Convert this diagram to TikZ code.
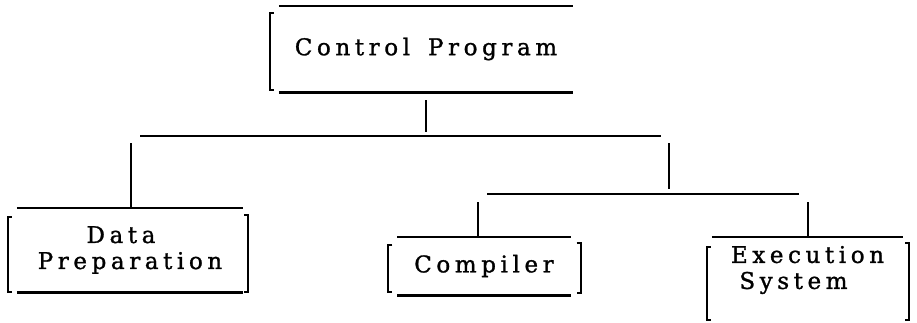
\documentclass[tikz,border=0pt]{standalone}
\usepackage{fontspec}
\newfontfamily\lsfont{DejaVu Serif}[LetterSpace=20,FakeBold=1.2]
\newcommand{\drawlbr}[4]{\draw[brk] ([shift={(#2+4,#3)}]#1.north west) -- ([shift={(#2,#3)}]#1.north west) -- ([shift={(#2,#4)}]#1.south west) -- ([shift={(#2+4,#4)}]#1.south west);}
\newcommand{\drawrbr}[4]{\draw[brk] ([shift={(#2-4,#3)}]#1.north east) -- ([shift={(#2,#3)}]#1.north east) -- ([shift={(#2,#4)}]#1.south east) -- ([shift={(#2-4,#4)}]#1.south east);}
\begin{document}
\begin{tikzpicture}[x=1pt,y=-1pt,
  boxnode/.style={inner sep=0pt, font=\lsfont\fontsize{23}{26}\selectfont, align=center},
  rule/.style={line width=2.6pt},
  brk/.style={line width=2.3pt},
  conn/.style={line width=2.3pt}]
\useasboundingbox (0,0) rectangle (917,322);
% boxes
\node[boxnode, minimum width=294pt, minimum height=86pt] (CP) at (426,49) {Control\hspace{6pt} Program};
\node[boxnode, minimum width=226pt, minimum height=84pt] (DP) at (130,250) {Data\kern18pt\\Preparation};
\node[boxnode, minimum width=173pt, minimum height=58pt] (CO) at (484,266) {Compiler};
\node[boxnode, minimum width=191pt, minimum height=66pt] (EX) at (807.5,270) {Execution\\System\kern28pt};
% box rules
\draw[rule] (CP.north west) -- (CP.north east);
\draw[rule] (CP.south west) -- (CP.south east);
\drawlbr{CP}{-9}{7}{-2}
\draw[rule] (DP.north west) -- (DP.north east);
\draw[rule] (DP.south west) -- (DP.south east);
\drawlbr{DP}{-9}{9}{0}
\drawrbr{DP}{5}{7}{0}
\draw[rule] (CO.north west) -- (CO.north east);
\draw[rule] (CO.south west) -- (CO.south east);
\drawlbr{CO}{-9}{8}{-3}
\drawrbr{CO}{10}{6}{-2}
\draw[rule] (EX.north west) -- (EX.north east);
\drawlbr{EX}{-5}{10}{17}
\drawrbr{EX}{6}{6}{17}
% connector points
\coordinate (j0) at (426,132);
\coordinate (b1w) at (140,136);
\coordinate (b1e) at (661,136);
\coordinate (j1) at (131,143);
\coordinate (j2) at (669,143);
\coordinate (j2b) at (669,189);
\coordinate (b2w) at (487,194);
\coordinate (b2e) at (799,194);
\coordinate (j3) at (478,202);
\coordinate (j4) at (808,202);
% connectors
\draw[conn] ([yshift=-8pt]CP.south) -- (j0);
\draw[rule] (b1w) -- (b1e);
\draw[conn] (j1) -- (DP.north -| j1);
\draw[conn] (j2) -- (j2b);
\draw[rule] (b2w) -- (b2e);
\draw[conn] (j3) -- (CO.north -| j3);
\draw[conn] (j4) -- (EX.north -| j4);
\end{tikzpicture}
\end{document}
